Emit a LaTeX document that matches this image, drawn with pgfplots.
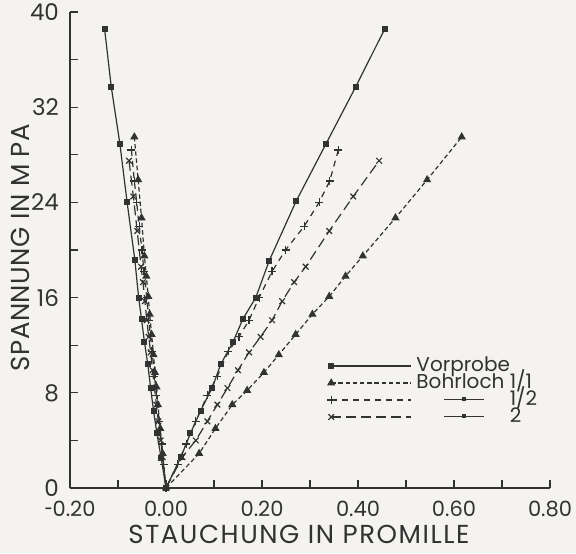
\documentclass[border=0pt]{standalone}
\usepackage{fontspec}
\setmainfont{Poppins}
\usepackage{pgfplots}
\pgfplotsset{compat=1.18}
\usetikzlibrary{backgrounds}
\definecolor{ink}{RGB}{50,50,50}
\definecolor{paper}{RGB}{244,243,240}
% small "line - mark - line" symbol used in the legend
\newcommand{\dm}{\raisebox{0.55ex}{\rule{0.9em}{0.5pt}}\rule[0.42ex]{2pt}{2pt}\raisebox{0.55ex}{\rule{0.9em}{0.5pt}}}
\newcommand{\hy}{\scalebox{0.7}[1]{-}}

\begin{document}
\begin{tikzpicture}
  \begin{axis}[
      name=ax, at={(0,0)}, anchor=south west,
      scale only axis, width=240pt, height=238pt,
      xmin=-0.2, xmax=0.8, ymin=0, ymax=40,
      enlargelimits=false,
      axis lines=left,
      axis line style={-, ink, line width=0.7pt},
      xtick={-0.2,0,0.2,0.4,0.6,0.8},
      xticklabels={\hy0.20,0.00,0.20,0.40,0.60,0.80},
      ytick={0,8,16,24,32,40},
      minor x tick num=1, minor y tick num=1,
      tick align=inside,
      major tick length=4pt, minor tick length=4pt,
      tick style={ink, line width=0.6pt},
      /pgf/number format/assume math mode=true,
      xticklabel style={font=\fontsize{10.5}{12}\selectfont, text=ink, yshift=-3pt},
      yticklabel style={font=\fontsize{11.5}{12}\selectfont, text=ink, xshift=-2pt},
      xlabel={STAUCHUNG IN PROMILLE},
      ylabel={SPANNUNG IN M PA},
      xlabel style={font=\fontsize{13}{14}\selectfont\addfontfeatures{LetterSpace=6}, text=ink,
        at={(rel axis cs:0.477,-0.098)}, anchor=center},
      ylabel style={font=\fontsize{13}{14}\selectfont\addfontfeatures{LetterSpace=2}, text=ink,
        at={(rel axis cs:-0.104,0.505)}, anchor=center},
      every axis plot/.append style={ink, line width=0.6pt, mark options={solid, fill=ink}},
      legend image code/.code={
        \draw[mark repeat=2, mark phase=1, #1] plot coordinates {(0cm,0cm) (1.4cm,0cm)};
      },
      legend style={at={(rel axis cs:0.535,0.276)}, anchor=north west,
        draw=none, fill=none, inner sep=0pt,
        nodes={inner ysep=0.5pt, inner xsep=2.5pt, text height=6.8pt, text depth=1.2pt},
        font=\fontsize{10}{10}\selectfont, text=ink,
        row sep=-0.5pt},
      legend cell align=left,
    ]
    % Vorprobe
    \addplot[solid, mark=square*, mark size=1.2pt] coordinates {
      (-0.128,38.6) (-0.114,33.7) (-0.096,28.9) (-0.081,24.0) (-0.065,19.2)
      (-0.057,16.0) (-0.051,14.2) (-0.045,12.3) (-0.038,10.4) (-0.032,8.4)
      (-0.026,6.5) (-0.019,4.6) (-0.010,2.5) (0,0)
      (0.031,2.6) (0.051,4.6) (0.072,6.5) (0.096,8.4) (0.114,10.4)
      (0.140,12.3) (0.160,14.2) (0.187,16.0) (0.215,19.1) (0.271,24.1)
      (0.333,28.9) (0.395,33.7) (0.456,38.6)
    };
    \addlegendentry{Vorprobe}
    % Bohrloch 1/1
    \addplot[dash pattern=on 2.2pt off 1.4pt, mark=triangle*, mark size=1.8pt] coordinates {
      (-0.066,29.5) (-0.058,25.9) (-0.051,22.7) (-0.045,19.5) (-0.041,17.8)
      (-0.037,16.1) (-0.034,14.6) (-0.030,12.9) (-0.026,11.2) (-0.023,9.7)
      (-0.020,8.5) (-0.017,7.0) (-0.012,5.0) (-0.007,2.9) (0,0)
      (0.069,2.9) (0.103,5.0) (0.138,7.0) (0.169,8.2) (0.204,9.7)
      (0.235,11.2) (0.270,12.9) (0.305,14.6) (0.340,16.1) (0.374,17.8)
      (0.410,19.5) (0.478,22.7) (0.544,25.9) (0.616,29.5)
    };
    \addlegendentry{Bohrloch 1/1}
    % Bohrloch 1/2
    \addplot[dash pattern=on 3pt off 2.5pt, mark=+, mark size=2pt] coordinates {
      (-0.072,28.4) (-0.066,25.8) (-0.061,24.0) (-0.056,22.0) (-0.050,20.0)
      (-0.046,18.2) (-0.040,16.0) (-0.036,14.1) (-0.032,12.7) (-0.029,11.5)
      (-0.024,9.4) (-0.020,7.8) (-0.014,5.6) (-0.009,3.7) (-0.005,2.0) (0,0)
      (0.024,2.0) (0.042,3.7) (0.062,5.6) (0.086,7.8) (0.107,9.4)
      (0.130,11.5) (0.152,12.7) (0.173,14.1) (0.194,16.0) (0.221,18.2)
      (0.249,20.0) (0.288,22.0) (0.319,24.0) (0.341,25.8) (0.359,28.4)
    };
    \addlegendentry{\rlap{\hspace{1.4em}\dm}\hphantom{Bohrloch }1/2}
    % Bohrloch 2
    \addplot[dash pattern=on 5pt off 2.5pt, mark=x, mark size=2pt] coordinates {
      (-0.077,27.5) (-0.068,24.5) (-0.060,21.6) (-0.052,18.6) (-0.048,17.3)
      (-0.044,15.7) (-0.040,14.1) (-0.036,12.7) (-0.032,11.4) (-0.028,9.9)
      (-0.024,8.4) (-0.020,7.0) (-0.016,5.6) (-0.011,4.0) (-0.007,2.6) (0,0)
      (0.034,2.6) (0.062,4.0) (0.086,5.6) (0.107,7.0) (0.128,8.4)
      (0.150,9.9) (0.173,11.4) (0.197,12.7) (0.221,14.1) (0.242,15.7)
      (0.267,17.3) (0.291,18.6) (0.340,21.6) (0.390,24.5) (0.444,27.5)
    };
    \addlegendentry{\rlap{\hspace{1.4em}\dm}\hphantom{Bohrloch }2}
  \end{axis}
  \pgfresetboundingbox
  \begin{pgfonlayer}{background}
    \fill[paper] (-35pt,-32.5pt) rectangle (253pt,244pt);
  \end{pgfonlayer}
\end{tikzpicture}
\end{document}
